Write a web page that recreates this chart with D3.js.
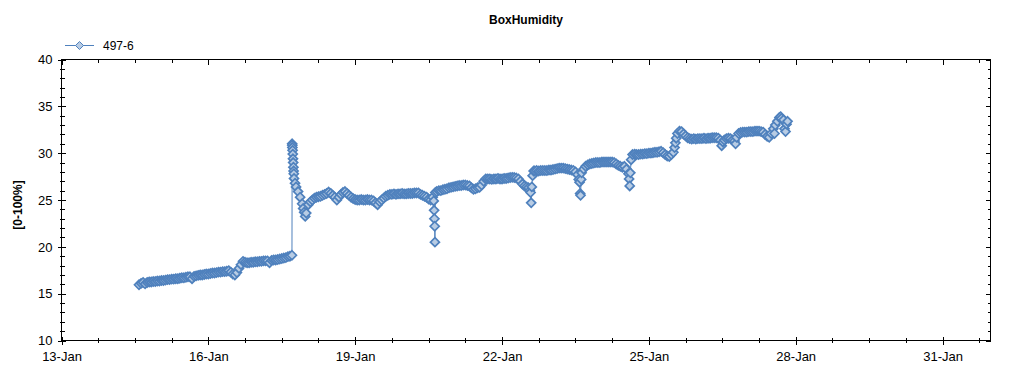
<!DOCTYPE html>
<html>
<head>
<meta charset="utf-8">
<script src="https://cdn.jsdelivr.net/npm/d3@7"></script>
<style>
  body { margin: 0; background: #fff; }
  text { font-family: "Liberation Sans", Arial, sans-serif; }
</style>
</head>
<body>
<div id="chart"></div>
<script>
// BoxHumidity - sensor 497-6 readings
const chartTitle = 'BoxHumidity';
const yLabel = '[0-100%]';
const seriesName = '497-6';

// readings: [hours since 14-Jan 00:00, humidity %]
const readings = [
  [14,15.95],[15,16.1],[16,16.2],[17,16.05],[18,16.2],[19,16.25],[20,16.25],[21,16.3],[22,16.3],[23,16.35],
  [24,16.35],[25,16.4],[26,16.4],[27,16.45],[28,16.5],[29,16.5],[30,16.55],[31,16.55],[32,16.6],[33,16.6],
  [34,16.65],[35,16.7],[36,16.7],[37,16.75],[38,16.8],[39,16.8],[40,16.6],[41,16.85],[42,16.9],[43,16.95],
  [44,17.0],[45,17.0],[46,17.05],[47,17.1],[48,17.1],[49,17.15],[50,17.2],[51,17.2],[52,17.25],[53,17.3],
  [54,17.3],[55,17.35],[56,17.35],[57,17.4],[58,17.45],[59,17.3],[60,17.1],[61,17.0],[62,17.25],[63,17.7],
  [64,18.1],[65,18.45],[66,18.35],[67,18.3],[68,18.3],[69,18.35],[70,18.35],[71,18.4],[72,18.4],[73,18.45],
  [74,18.45],[75,18.5],[76,18.5],[77,18.5],[78,18.3],[79,18.55],[80,18.6],[81,18.6],[82,18.65],[83,18.7],
  [84,18.75],[85,18.8],[86,18.85],[87,18.95],[88,19.0],[89,19.1],
  [89.1,31.0],[89.15,30.85],[89.2,30.6],[89.3,30.3],[89.4,29.9],[89.5,29.4],[89.6,29.0],[89.7,28.5],[89.8,28.1],[89.9,27.8],
  [90,27.3],[90.5,26.8],[91,26.4],[92,25.9],[93,25.3],[94,24.6],[94.5,24.1],[95,23.7],[95.5,23.25],[96,23.6],
  [97,24.5],[98,24.8],[99,25.0],[100,25.2],[101,25.3],[102,25.35],[103,25.4],[104,25.5],[105,25.6],[106,25.7],
  [107,25.85],[108,25.7],[109,25.5],[110,25.3],[111,25.0],[112,25.3],[113,25.6],[114,25.8],[115,25.9],[116,25.7],
  [117,25.5],[118,25.3],[119,25.15],[120,25.05],[121,25.0],[122,25.0],[123,25.05],[124,25.0],[125,25.0],[126,25.05],
  [127,25.0],[128,25.0],[129,24.9],[130,24.7],[131,24.5],[132,24.8],[133,25.0],[134,25.2],[135,25.4],[136,25.5],
  [137,25.6],[138,25.6],[139,25.65],[140,25.6],[141,25.65],[142,25.65],[143,25.7],[144,25.65],[145,25.65],[146,25.7],
  [147,25.7],[148,25.7],[149,25.75],[150,25.75],[151,25.75],[152,25.6],[153,25.5],[154,25.4],[155,25.3],[156,25.1],
  [157,25.0],[158,25.3],[158.5,24.9],[158.7,23.9],[158.85,23.0],[159,22.2],[159.1,20.5],[159.3,25.8],[160,25.9],[161,26.0],
  [162,26.0],[163,26.1],[164,26.15],[165,26.2],[166,26.3],[167,26.35],[168,26.4],[169,26.45],[170,26.5],[171,26.55],
  [172,26.55],[173,26.6],[174,26.6],[175,26.55],[176,26.5],[177,26.3],[178,26.15],[179,26.2],[180,26.3],[181,26.35],
  [182,26.6],[183,27.0],[184,27.25],[185,27.25],[186,27.25],[187,27.2],[188,27.25],[189,27.25],[190,27.3],[191,27.25],
  [192,27.25],[193,27.3],[194,27.3],[195,27.35],[196,27.4],[197,27.42],[198,27.4],[199,27.35],[200,27.25],[201,27.0],
  [202,26.7],[203,26.5],[204,26.4],[205,26.3],[205.6,26.0],[206,25.8],[206.3,24.7],[206.6,26.4],[207,27.6],[207.5,28.1],
  [208,28.1],[209,28.15],[210,28.1],[211,28.15],[212,28.15],[213,28.15],[214,28.15],[215,28.2],[216,28.2],[217,28.25],
  [218,28.3],[219,28.35],[220,28.4],[221,28.4],[222,28.4],[223,28.35],[224,28.3],[225,28.25],[226,28.2],[227,28.15],
  [228,28.0],[229,27.7],[229.6,27.2],[230,26.9],[230.3,25.7],[230.5,25.5],[230.8,27.2],[231,27.9],[232,28.3],[233,28.6],
  [234,28.75],[235,28.85],[236,28.9],[237,28.95],[238,29.0],[239,29.0],[240,29.0],[241,29.05],[242,29.05],[243,29.05],
  [244,29.05],[245,29.05],[246,29.05],[247,29.0],[248,28.85],[249,28.7],[250,28.6],[251,28.5],[252,28.6],[253,28.3],
  [254,27.8],[254.3,27.25],[254.6,26.5],[254.9,27.9],[255.3,29.3],[256,29.85],[257,29.9],[258,29.85],[259,29.85],[260,29.9],
  [261,29.9],[262,29.95],[263,29.95],[264,30.0],[265,30.0],[266,30.05],[267,30.1],[268,30.1],[269,30.15],[270,30.2],
  [271,30.05],[272,29.85],[273,29.7],[274,29.65],[275,29.85],[276,30.1],[276.6,30.6],[277,31.1],[277.4,31.6],[278,32.1],
  [279,32.35],[280,32.3],[281,32.05],[282,31.85],[283,31.65],[284,31.55],[285,31.5],[286,31.55],[287,31.5],[288,31.55],
  [289,31.55],[290,31.55],[291,31.6],[292,31.55],[293,31.6],[294,31.6],[295,31.65],[296,31.65],[297,31.65],[298,31.6],
  [299,31.4],[299.7,30.8],[300.3,31.2],[301,31.4],[302,31.55],[303,31.6],[304,31.55],[305,31.4],[306,31.3],[306.5,31.0],
  [307,31.7],[308,32.1],[309,32.2],[310,32.25],[311,32.25],[312,32.25],[313,32.3],[314,32.3],[315,32.3],[316,32.35],
  [317,32.35],[318,32.35],[319,32.3],[320,32.25],[321,32.0],[322,31.8],[323,31.7],[324,32.1],[325,32.6],[325.6,32.1],
  [326,33.0],[327,33.4],[328,33.8],[328.6,33.9],[329,33.7],[330,33.55],[330.5,32.6],[331,32.3],[331.5,33.1],[332,33.4]
];

// axis ticks
const xMajorDays = [13, 16, 19, 22, 25, 28, 31];
const xTickLabels = ['13-Jan', '16-Jan', '19-Jan', '22-Jan', '25-Jan', '28-Jan', '31-Jan'];
const yMajor = [10, 15, 20, 25, 30, 35, 40];

const width = 1024, height = 375;
const plot = { left: 61.5, right: 990.5, top: 59.5, bottom: 340.5 };
const HOUR = 3600 * 1000;
const jan = d => Date.UTC(2014, 0, d);
const base = jan(14);

const svg = d3.select('#chart').append('svg')
  .attr('width', width)
  .attr('height', height)
  .style('display', 'block');

svg.append('rect').attr('width', width).attr('height', height).attr('fill', '#fff');

const x = d3.scaleUtc()
  .domain([new Date(jan(13)), new Date(jan(31) + 23.5 * HOUR)])
  .range([plot.left, plot.right]);

const y = d3.scaleLinear()
  .domain([10, 40])
  .range([plot.bottom, plot.top]);

const data = readings.map(r => ({ t: new Date(base + r[0] * HOUR), v: r[1] }));

const xMajor = xMajorDays.map(d => new Date(jan(d)));
const xMinor = d3.range(0, 19 * 24, 18)
  .map(h => new Date(jan(13) + h * HOUR))
  .filter(d => d <= x.domain()[1] && !xMajor.some(m => +m === +d));
const yMinor = d3.range(10, 41).filter(v => v % 5 !== 0);

// frame
svg.append('rect')
  .attr('x', plot.left).attr('y', plot.top)
  .attr('width', plot.right - plot.left).attr('height', plot.bottom - plot.top)
  .attr('fill', 'none').attr('stroke', '#000').attr('shape-rendering', 'crispEdges');

function tickGroup(axis, tx, ty) {
  const g = svg.append('g')
    .attr('transform', `translate(${tx},${ty})`)
    .call(axis);
  g.select('.domain').remove();
  g.selectAll('.tick line').attr('stroke', '#000').attr('shape-rendering', 'crispEdges');
  return g;
}

// bottom
const gx = tickGroup(d3.axisBottom(x).tickValues(xMajor).tickFormat((d, i) => xTickLabels[i]), 0, plot.bottom);
gx.selectAll('.tick line').attr('y1', -4).attr('y2', 4);
gx.selectAll('.tick text').attr('y', 11).attr('fill', '#000').style('font-size', '13px');
tickGroup(d3.axisBottom(x).tickValues(xMinor).tickFormat(''), 0, plot.bottom)
  .selectAll('.tick line').attr('y1', -3).attr('y2', 2);

// top
tickGroup(d3.axisTop(x).tickValues(xMajor).tickFormat('').tickSize(-5), 0, plot.top);
tickGroup(d3.axisTop(x).tickValues(xMinor).tickFormat('').tickSize(-3), 0, plot.top);

// left
const gy = tickGroup(d3.axisLeft(y).tickValues(yMajor).tickFormat(d3.format('d')), plot.left, 0);
gy.selectAll('.tick line').attr('x1', -4).attr('x2', 4);
gy.selectAll('.tick text').attr('x', -9).attr('fill', '#000').style('font-size', '13px');
tickGroup(d3.axisLeft(y).tickValues(yMinor).tickFormat(''), plot.left, 0)
  .selectAll('.tick line').attr('x1', -2).attr('x2', 3);

// right
tickGroup(d3.axisRight(y).tickValues(yMajor).tickFormat('').tickSize(-5), plot.right, 0);
tickGroup(d3.axisRight(y).tickValues(yMinor).tickFormat('').tickSize(-3), plot.right, 0);

// title and axis label
svg.append('text')
  .attr('x', (plot.left + plot.right) / 2).attr('y', 24)
  .attr('text-anchor', 'middle')
  .style('font-size', '12px').style('font-weight', 'bold')
  .text(chartTitle);

svg.append('text')
  .attr('transform', `translate(22,205) rotate(-90)`)
  .attr('text-anchor', 'middle')
  .style('font-size', '12px').style('font-weight', 'bold')
  .text(yLabel);

// series
const lineColor = '#4f81bd';
const markerFill = '#b8cce4';
const diamond = 'M0,-4L4,0L0,4L-4,0Z';
const bigDiamond = 'M0,-4.5L4.5,0L0,4.5L-4.5,0Z';

svg.append('path')
  .datum(data)
  .attr('fill', 'none')
  .attr('stroke', lineColor)
  .attr('stroke-width', 1)
  .attr('d', d3.line().x(d => x(d.t)).y(d => y(d.v)));

svg.append('g')
  .selectAll('path')
  .data(data)
  .join('path')
  .attr('transform', d => `translate(${x(d.t)},${y(d.v)})`)
  .attr('d', bigDiamond)
  .attr('fill', markerFill)
  .attr('stroke', lineColor)
  .attr('stroke-width', 1.7);

// legend
const legend = svg.append('g').attr('transform', 'translate(65,45.5)');
legend.append('line').attr('x1', 0).attr('x2', 29).attr('stroke', lineColor);
legend.append('path').attr('transform', 'translate(14.5,0)').attr('d', diamond)
  .attr('fill', markerFill).attr('stroke', lineColor);
legend.append('text').attr('x', 38).attr('y', 4.5)
  .style('font-size', '12px').text(seriesName);
</script>
</body>
</html>
